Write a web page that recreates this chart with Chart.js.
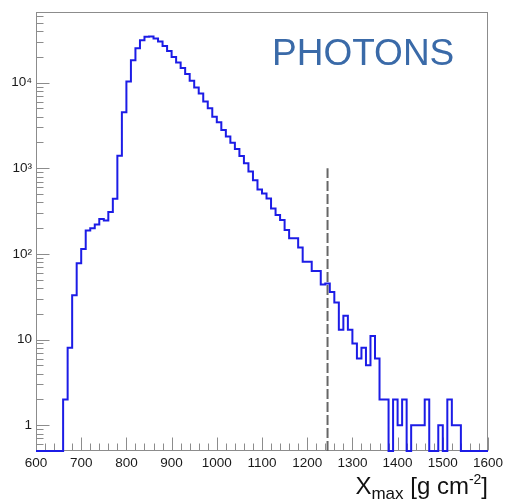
<!DOCTYPE html>
<html>
<head>
<meta charset="utf-8">
<script src="https://cdn.jsdelivr.net/npm/chart.js@4.4.1/dist/chart.umd.min.js"></script>
<style>
  html, body { margin: 0; padding: 0; background: #fff; }
</style>
</head>
<body>
<canvas id="xmax" width="508" height="502"></canvas>
<script>
// Xmax histogram, 10 g/cm2 bins from 600 to 1600
const binStart = 600;
const binWidth = 10;
const counts = [
  0, 0, 0, 0, 0, 0, 2, 8, 33, 78,                                   // 600-690
  114, 188, 199, 221, 255, 246, 308, 440, 1400, 4500,               // 700-790
  10300, 18200, 25200, 31300, 34300, 34500, 32700, 30200, 26700, 23300, // 800-890
  19900, 17200, 14800, 12600, 10500, 8750, 7450, 6000, 5000, 4000,  // 900-990
  3450, 2800, 2350, 1980, 1680, 1390, 1140, 915, 725, 564,          // 1000-1090
  507, 443, 339, 284, 248, 190, 152, 152, 119, 81,                  // 1100-1190
  81, 63, 63, 44, 45, 36, 27, 13, 19, 13,                           // 1200-1290
  9, 6, 8, 5, 11, 6, 2, 2, 0, 2,                                    // 1300-1390
  1, 2, 0, 1, 1, 1, 2, 0, 0, 1,                                     // 1400-1490
  0, 2, 1, 1, 0, 0, 0, 0, 0, 0                                      // 1500-1590
];

const xRange = [600, 1600];
const yRange = [0.5, 66500];
const xTicks = [600, 700, 800, 900, 1000, 1100, 1200, 1300, 1400, 1500, 1600];
const yTicks = [1, 10, 100, 1000, 10000];
const yTickLabels = ["1", "10", "10²", "10³", "10⁴"];

// vertical cut marker
const cutValue = 1245;
const cutTop = 1000;

// one point per bin edge; the step holds each bin's count until the next edge
const histPoints = [];
for (let i = 0; i <= counts.length; i++) {
  const c = counts[Math.min(i, counts.length - 1)];
  histPoints.push({ x: binStart + i * binWidth, y: c > 0 ? c : yRange[0] });
}

const cutPoints = [{ x: cutValue, y: yRange[0] }, { x: cutValue, y: cutTop }];

const FONT = "'Liberation Sans', Arial, Helvetica, sans-serif";
const AXIS_GREY = "#8c8c8c";

// frame box and inward ticks
const rootFrame = {
  id: "rootFrame",
  beforeDatasetsDraw(chart) {
    const { ctx, chartArea: a, scales: { x, y } } = chart;
    ctx.save();
    ctx.strokeStyle = AXIS_GREY;
    ctx.lineWidth = 1;
    const L = Math.round(a.left) + 0.5, R = Math.round(a.right) - 0.5;
    const T = Math.round(a.top) + 0.5, B = Math.round(a.bottom) - 0.5;
    ctx.strokeRect(L, T, R - L, B - T);

    ctx.beginPath();
    for (let v = xRange[0]; v <= xRange[1]; v += 20) {
      const px = Math.round(x.getPixelForValue(v)) + 0.5;
      const len = v % 100 === 0 ? 13 : 7;
      ctx.moveTo(px, B);
      ctx.lineTo(px, B - len);
    }
    for (let d = -1; d <= 4; d++) {
      for (let m = 1; m <= 9; m++) {
        const v = m * Math.pow(10, d);
        if (v < yRange[0] || v > yRange[1]) continue;
        const py = Math.round(y.getPixelForValue(v)) + 0.5;
        const len = m === 1 ? 13 : 7;
        ctx.moveTo(L, py);
        ctx.lineTo(L + len, py);
      }
    }
    ctx.stroke();
    ctx.restore();
  },
  afterDraw(chart) {
    const { ctx, chartArea: a } = chart;
    ctx.save();
    // label in the upper right
    ctx.fillStyle = "#3a6aa8";
    ctx.font = "37px " + FONT;
    ctx.textBaseline = "alphabetic";
    ctx.fillText("PHOTONS", 272, 65);

    // axis title, right aligned to the frame
    ctx.fillStyle = "#111";
    const parts = [
      { t: "X", size: 24, dy: 0 },
      { t: "max", size: 17, dy: 5 },
      { t: " [g cm", size: 24, dy: 0 },
      { t: "-2", size: 14, dy: -10 },
      { t: "]", size: 24, dy: 0 }
    ];
    let total = 0;
    parts.forEach(p => {
      ctx.font = p.size + "px " + FONT;
      p.w = ctx.measureText(p.t).width;
      total += p.w;
    });
    let cx = a.right - total;
    const base = 494;
    parts.forEach(p => {
      ctx.font = p.size + "px " + FONT;
      ctx.fillText(p.t, cx, base + p.dy);
      cx += p.w;
    });
    ctx.restore();
  }
};

new Chart(document.getElementById("xmax").getContext("2d"), {
  type: "line",
  data: {
    datasets: [
      {
        data: histPoints,
        stepped: "before",
        borderColor: "#1c1ce6",
        borderWidth: 2,
        pointRadius: 0,
        fill: false,
        clip: 3
      },
      {
        data: cutPoints,
        borderColor: "#666666",
        borderWidth: 2,
        borderDash: [10, 3],
        pointRadius: 0,
        fill: false
      }
    ]
  },
  options: {
    responsive: false,
    animation: false,
    layout: { padding: { top: 10, right: 20, left: 0, bottom: 0 } },
    plugins: { legend: { display: false }, tooltip: { enabled: false } },
    scales: {
      x: {
        type: "linear",
        min: xRange[0],
        max: xRange[1],
        afterBuildTicks: s => { s.ticks = xTicks.map(v => ({ value: v })); },
        afterFit: s => { s.height = 51; },
        ticks: {
          callback: v => String(v),
          font: { family: FONT, size: 13.5 },
          color: "#1a1a1a",
          padding: 4,
          maxRotation: 0,
          autoSkip: false
        },
        grid: { display: false, drawTicks: false },
        border: { display: false }
      },
      y: {
        type: "logarithmic",
        min: yRange[0],
        max: yRange[1],
        afterBuildTicks: s => { s.ticks = yTicks.map(v => ({ value: v })); },
        afterFit: s => { s.width = 36; },
        ticks: {
          callback: (v, i) => yTickLabels[i],
          font: { family: FONT, size: 13.5 },
          color: "#1a1a1a",
          padding: 4,
          autoSkip: false
        },
        grid: { display: false, drawTicks: false },
        border: { display: false }
      }
    }
  },
  plugins: [rootFrame]
});
</script>
</body>
</html>
